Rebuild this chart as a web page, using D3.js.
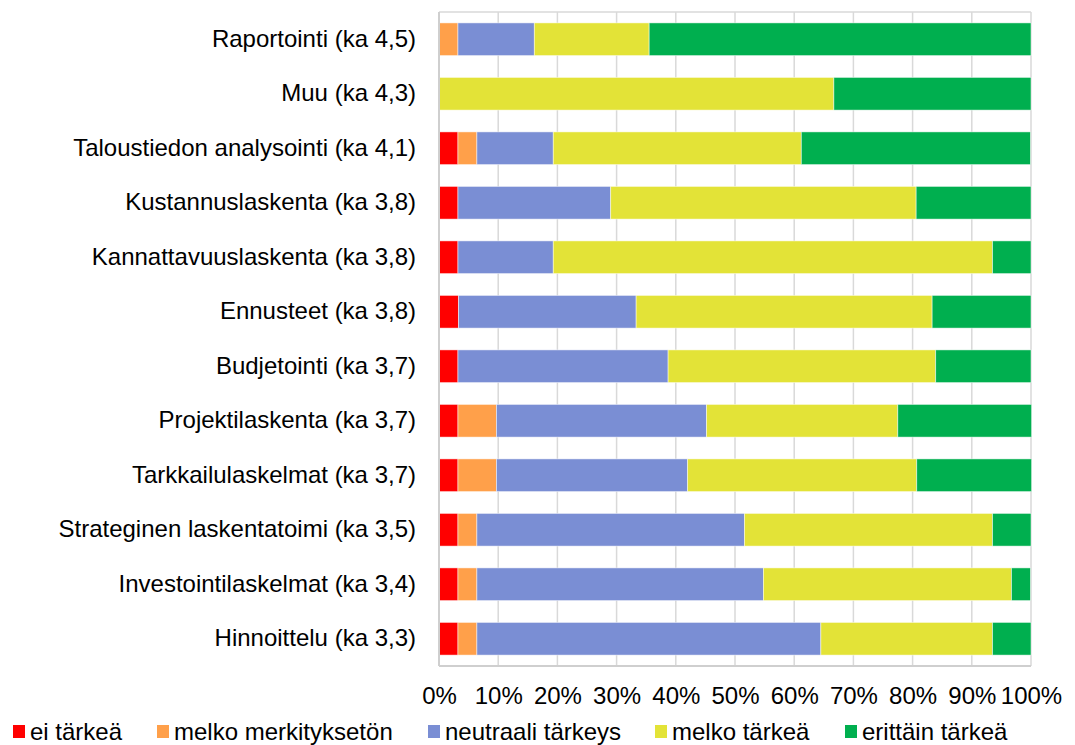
<!DOCTYPE html>
<html><head><meta charset="utf-8">
<script src="https://cdn.jsdelivr.net/npm/d3@7"></script>
<style>body{margin:0;background:#fff;} svg{display:block;font-family:"Liberation Sans",Arial,sans-serif;}</style>
</head><body>
<svg id="c" width="1075" height="745"></svg>
<script>
const categories = ["Raportointi (ka 4,5)","Muu (ka 4,3)","Taloustiedon analysointi (ka 4,1)","Kustannuslaskenta (ka 3,8)","Kannattavuuslaskenta (ka 3,8)","Ennusteet (ka 3,8)","Budjetointi (ka 3,7)","Projektilaskenta (ka 3,7)","Tarkkailulaskelmat (ka 3,7)","Strateginen laskentatoimi (ka 3,5)","Investointilaskelmat (ka 3,4)","Hinnoittelu (ka 3,3)"];
const seriesNames = ["ei tärkeä","melko merkityksetön","neutraali tärkeys","melko tärkeä","erittäin tärkeä"];
const eiTarkea =        [0,   0,   3.2, 3.2, 3.2, 3.3, 3.2, 3.2, 3.2, 3.2, 3.2, 3.2];
const melkoMerkitykseton=[3.2, 0,   3.2, 0,   0,   0,   0,   6.5, 6.5, 3.2, 3.2, 3.2];
const neutraali =       [12.9,0,   12.9,25.8,16.1,30.0,35.5,35.5,32.3,45.2,48.4,58.1];
const melkoTarkea =     [19.4,66.7,41.9,51.6,74.2,50.0,45.2,32.3,38.7,41.9,41.9,29.0];
const erittainTarkea =  [64.5,33.3,38.7,19.4,6.5, 16.7,16.1,22.6,19.4,6.5, 3.2, 6.5];
const tickLabels = ["0%","10%","20%","30%","40%","50%","60%","70%","80%","90%","100%"];
const colors = ["#FF0000","#FFA04A","#7A8ED4","#E3E337","#00AF4F"];

const seriesVals = [eiTarkea, melkoMerkitykseton, neutraali, melkoTarkea, erittainTarkea];
const rows = categories.map((c,i)=>{const o={cat:c}; seriesNames.forEach((s,j)=>o[s]=seriesVals[j][i]); return o;});
const stack = d3.stack().keys(seriesNames)(rows);

const FS = 24;
const svg = d3.select("#c");
const L=439, T=12, W=592, H=654;
const x = d3.scaleLinear().domain([0,100]).range([L, L+W]);
const y = d3.scaleBand().domain(categories).range([T, T+H]).paddingInner(0.4).paddingOuter(0.2);

// gridlines
svg.append("g").selectAll("line").data(d3.range(0,101,10)).join("line")
  .attr("x1",d=>x(d)).attr("x2",d=>x(d)).attr("y1",T).attr("y2",T+H)
  .attr("stroke","#d9d9d9").attr("stroke-width",1.5);
svg.append("line").attr("x1",L).attr("x2",L+W).attr("y1",T).attr("y2",T).attr("stroke","#d9d9d9").attr("stroke-width",1.5);

// bars
svg.append("g").selectAll("g").data(stack).join("g")
  .attr("fill",(d,i)=>colors[i])
  .selectAll("rect").data(d=>d).join("rect")
  .attr("x",d=>x(d[0])).attr("width",d=>Math.max(0,x(d[1])-x(d[0])))
  .attr("y",d=>y(d.data.cat)).attr("height",y.bandwidth())
  .attr("stroke",d=>(d[1]-d[0])>0?"rgba(255,255,255,0.6)":"none").attr("stroke-width",0.8);

// axis lines
svg.append("line").attr("x1",L).attr("x2",L).attr("y1",T).attr("y2",T+H).attr("stroke","#cfcfcf").attr("stroke-width",2);
svg.append("line").attr("x1",L).attr("x2",L+W).attr("y1",T+H).attr("y2",T+H).attr("stroke","#cfcfcf").attr("stroke-width",2);

// category labels
const yAxis = d3.axisLeft(y).tickSize(0).tickPadding(23);
const ya = svg.append("g").attr("transform",`translate(${L},0)`).call(yAxis);
ya.select(".domain").remove();
ya.selectAll("text").attr("font-size",FS).attr("fill","#000").attr("font-family","Liberation Sans, Arial, sans-serif");

// x ticks
const xAxis = d3.axisBottom(x).tickValues(d3.range(0,101,10)).tickFormat((d,i)=>tickLabels[i]).tickSize(0).tickPadding(21);
const xa = svg.append("g").attr("transform",`translate(0,${T+H})`).call(xAxis);
xa.select(".domain").remove();
xa.selectAll("text").attr("font-size",FS).attr("fill","#000").attr("font-family","Liberation Sans, Arial, sans-serif");

// legend
const legX = [13,157,428,655,845];
const lg = svg.append("g").selectAll("g").data(seriesNames).join("g").attr("transform",(d,i)=>`translate(${legX[i]},725)`);
lg.append("rect").attr("width",12).attr("height",13).attr("fill",(d,i)=>colors[i]);
lg.append("text").attr("x",17).attr("y",15).attr("font-size",FS).attr("fill","#000").text(d=>d);
</script>
</body></html>
